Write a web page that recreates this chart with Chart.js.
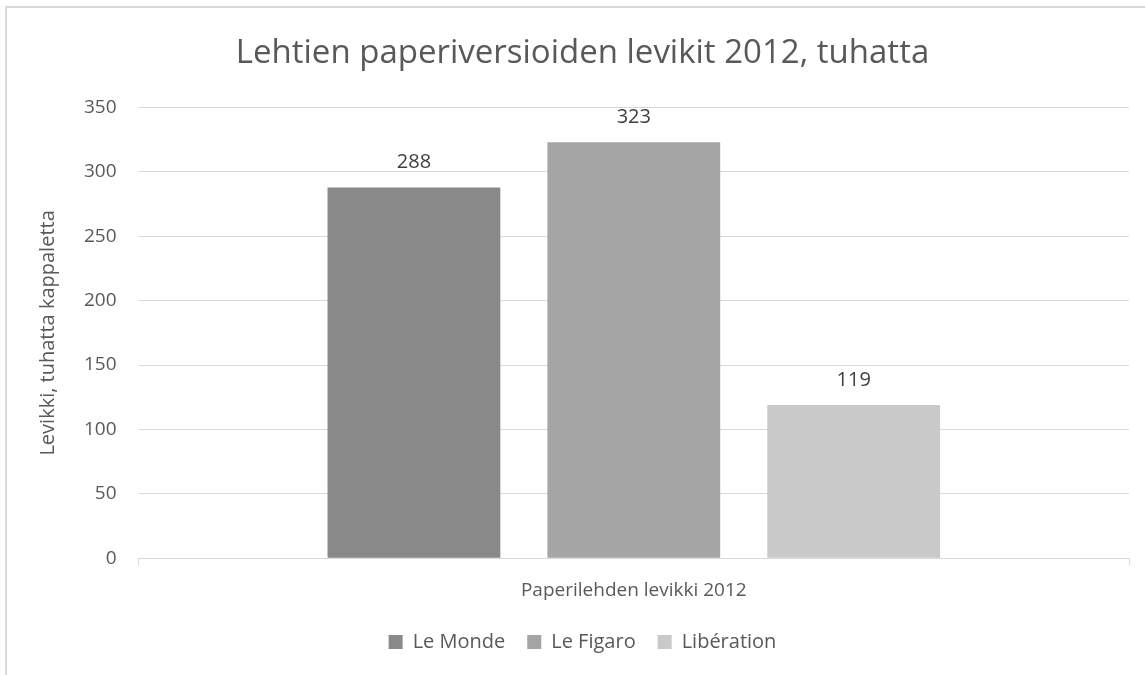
<!DOCTYPE html>
<html lang="fi">
<head>
  <meta charset="utf-8">
  <title>Lehtien levikit 2012</title>
  <style>
    html, body { margin: 0; padding: 0; background: #fff; overflow: hidden; }
    #frame {
      position: absolute; left: 5px; top: 6px;
      width: 1300px; height: 800px;
      border-left: 2px solid #d9d9d9; border-top: 2px solid #d9d9d9;
    }
    #chartContainer { position: absolute; left: 0; top: 0; width: 1145px; height: 675px; }
  </style>
  <script src="https://cdn.jsdelivr.net/npm/chart.js"></script>
</head>
<body>
  <div id="frame"></div>
  <div id="chartContainer">
    <canvas id="barChart" width="1145" height="675"></canvas>
  </div>
  <script>
    // data
    const categories = ['Paperilehden levikki 2012'];
    const papers = ['Le Monde', 'Le Figaro', 'Libération'];
    const circulation = [288, 323, 119];
    const barColors = ['#898989', '#a5a5a5', '#c9c9c9'];
    const yTicks = [0, 50, 100, 150, 200, 250, 300, 350];

    const textColor = '#595959';
    const gridColor = '#d9d9d9';
    const fontFamily = '"Open Sans", "Noto Sans", sans-serif';

    // value labels above each bar
    const valueLabels = {
      id: 'valueLabels',
      afterDatasetsDraw(chart) {
        const ctx = chart.ctx;
        ctx.save();
        ctx.font = '20px ' + fontFamily;
        ctx.fillStyle = '#404040';
        ctx.textAlign = 'center';
        ctx.textBaseline = 'middle';
        chart.data.datasets.forEach((ds, i) => {
          const meta = chart.getDatasetMeta(i);
          meta.data.forEach((bar, j) => {
            ctx.fillText(String(ds.data[j]), bar.x, bar.y - 25);
          });
        });
        ctx.restore();
      }
    };

    const datasets = papers.map((name, i) => ({
      label: name,
      data: [circulation[i]],
      backgroundColor: barColors[i],
      borderWidth: 0,
      barPercentage: 0.786,
      categoryPercentage: 0.666
    }));

    const ctx = document.getElementById('barChart').getContext('2d');
    const barChart = new Chart(ctx, {
      type: 'bar',
      data: { labels: categories, datasets: datasets },
      options: {
        responsive: false,
        animation: false,
        layout: { padding: { left: 36, right: 16, top: 0, bottom: 13 } },
        plugins: {
          tooltip: { enabled: false },
          title: {
            display: true,
            text: 'Lehtien paperiversioiden levikit 2012, tuhatta',
            color: textColor,
            font: { family: fontFamily, size: 33, weight: 'normal' },
            padding: { top: 34, bottom: 34 }
          },
          legend: {
            position: 'bottom',
            labels: {
              color: textColor,
              font: { family: fontFamily, size: 20 },
              boxWidth: 14,
              boxHeight: 14,
              padding: 22
            }
          }
        },
        scales: {
          x: {
            afterFit(scale) {
              scale.height -= 6;
            },
            grid: {
              offset: true,
              drawOnChartArea: false,
              tickLength: 7,
              color: gridColor
            },
            border: { color: gridColor, width: 1 },
            ticks: {
              color: textColor,
              font: { family: fontFamily, size: 19 },
              padding: 14
            }
          },
          y: {
            min: 0,
            max: 350,
            afterBuildTicks(scale) {
              scale.ticks = yTicks.map(v => ({ value: v }));
            },
            grid: { color: gridColor, drawTicks: false, lineWidth: 1 },
            border: { display: false },
            ticks: {
              color: textColor,
              font: { family: fontFamily, size: 19 },
              padding: 22
            },
            title: {
              display: true,
              text: 'Levikki, tuhatta kappaletta',
              color: textColor,
              font: { family: fontFamily, size: 20 },
              padding: { top: 0, bottom: 2 }
            }
          }
        }
      },
      plugins: [valueLabels]
    });
  </script>
</body>
</html>
